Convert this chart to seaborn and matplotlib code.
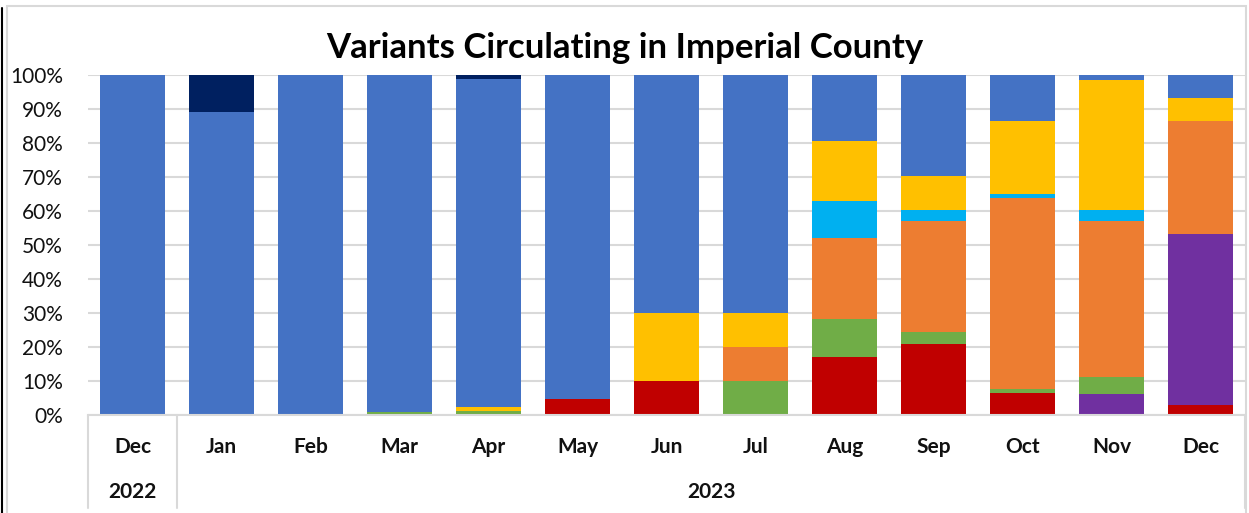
import numpy as np
import pandas as pd
import matplotlib
matplotlib.use("Agg")
import matplotlib.pyplot as plt
from matplotlib.ticker import PercentFormatter
from matplotlib.patches import Rectangle
from matplotlib.lines import Line2D
import seaborn as sns

# values, percent of sequenced samples
months = ['Dec', 'Jan', 'Feb', 'Mar', 'Apr', 'May', 'Jun', 'Jul', 'Aug', 'Sep', 'Oct', 'Nov', 'Dec']
years = ['2022', '2023']
year_span = [1, 12]   # number of months in each year group

red = [0, 0, 0, 0, 0, 4.7, 10, 0, 17.1, 21.0, 6.4, 0, 3.0]
purple = [0, 0, 0, 0, 0, 0, 0, 0, 0, 0, 0, 6.3, 50.1]
green = [0, 0, 0, 1.0, 1.1, 0, 0, 10, 11.0, 3.5, 1.3, 4.9, 0]
orange = [0, 0, 0, 0, 0, 0, 0, 10, 23.9, 32.7, 56.2, 46.0, 33.5]
cyan = [0, 0, 0, 0, 0, 0, 0, 0, 11.0, 3.2, 1.2, 3.2, 0]
yellow = [0, 0, 0, 0, 1.3, 0, 20, 10, 17.5, 10.0, 21.5, 38.0, 6.7]
blue = [100, 89.0, 100, 99.0, 96.3, 95.3, 70, 70, 19.5, 29.6, 13.4, 1.6, 6.7]
navy = [0, 11.0, 0, 0, 1.3, 0, 0, 0, 0, 0, 0, 0, 0]

series = [
    ('red', red, '#C00000'),
    ('purple', purple, '#7030A0'),
    ('green', green, '#70AD47'),
    ('orange', orange, '#ED7D31'),
    ('cyan', cyan, '#00B0F0'),
    ('yellow', yellow, '#FFC000'),
    ('blue', blue, '#4472C4'),
    ('navy', navy, '#002060'),
]

df = pd.DataFrame({name: vals for name, vals, _ in series})
df = df.div(df.sum(axis=1), axis=0)   # 100% stacked
cum = df.cumsum(axis=1)
pos = list(range(len(months)))

sns.set_style("white")
plt.rcParams['font.family'] = ['Lato', 'DejaVu Sans']

W, H = 1249, 513
fig = plt.figure(figsize=(W / 100, H / 100), dpi=100)
ax = fig.add_axes([88 / W, 1 - 415 / H, (1245 - 88) / W, (415 - 75) / H])

# draw cumulative totals from the top layer down so each segment shows
for name, _, col in reversed(series):
    sns.barplot(x=pos, y=cum[name].values, color=col, saturation=1,
                width=0.73, linewidth=0, ax=ax, zorder=2)

ax.set_xlim(-0.5, len(months) - 0.5)
ax.set_ylim(0, 1)
ax.set_yticks(np.arange(0, 1.01, 0.1))
ax.yaxis.set_major_formatter(PercentFormatter(1.0, decimals=0))
ax.grid(axis='y', color='#d9d9d9', linewidth=1.5, zorder=0)
ax.set_axisbelow(True)
for s in ['top', 'right', 'left']:
    ax.spines[s].set_visible(False)
ax.spines['bottom'].set_color('#d9d9d9')
ax.spines['bottom'].set_linewidth(1.5)
ax.tick_params(axis='y', length=0, pad=18, labelsize=15, labelcolor='#111111')
ax.tick_params(axis='x', length=0, pad=0)
ax.set_xticks(pos)
ax.set_xticklabels([])
ax.set_xlabel('')
ax.set_ylabel('')

# two level category axis
trans = ax.get_xaxis_transform()
for i, m in enumerate(months):
    ax.text(i, -32 / 340, m, transform=trans, ha='center', va='center',
            fontsize=15, fontweight='bold', color='#111111')
start = 0
bounds = [-0.5]
for y, n in zip(years, year_span):
    ax.text(start + (n - 1) / 2, -77 / 340, y, transform=trans, ha='center',
            va='center', fontsize=15, fontweight='bold', color='#111111')
    start += n
    bounds.append(start - 0.5)
for b in bounds:
    ax.add_line(Line2D([b, b], [0, -93 / 340], transform=trans, color='#d9d9d9',
                       linewidth=1.5, clip_on=False))

fig.text(0.5, 1 - 48 / H, 'Variants Circulating in Imperial County',
         ha='center', va='center', fontsize=25, fontweight='bold', color='#000000')

# chart frame
fig.patches.append(Rectangle((7 / W, -0.05), (1246 - 7) / W, 1 - 6 / H + 0.05,
                             transform=fig.transFigure, fill=False,
                             edgecolor='#d9d9d9', linewidth=1.5))
fig.lines.append(Line2D([2 / W, 2 / W], [0, 1 - 8 / H], transform=fig.transFigure,
                        color='black', linewidth=1.5))

fig.savefig('out.png', dpi=100)
